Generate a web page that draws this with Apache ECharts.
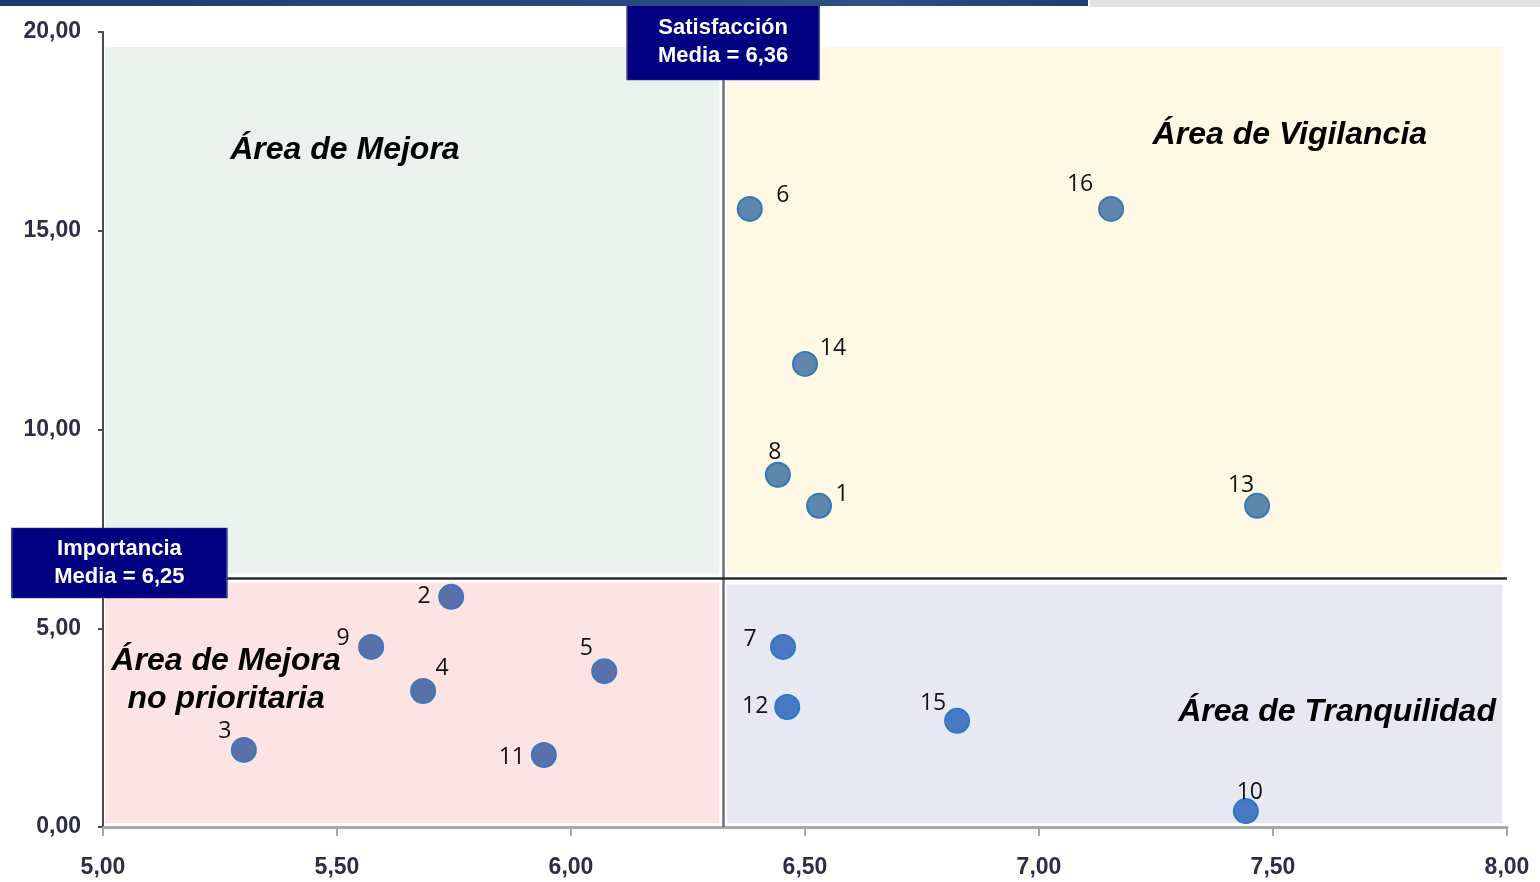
<!DOCTYPE html>
<html><head><meta charset="utf-8">
<script src="https://cdn.jsdelivr.net/npm/echarts@6/dist/echarts.min.js"></script>
<style>html,body{margin:0;padding:0;background:#fff}#c{width:1540px;height:882px}</style>
</head><body><div id="c"></div>
<script>
// ---- data ----
const pointIds = ['1','2','3','4','5','6','7','8','9','10','11','12','13','14','15','16'];
const satisfaccion = [6.53,5.744,5.301,5.684,6.071,6.382,6.453,6.442,5.573,7.442,5.942,6.462,7.466,6.50,6.825,7.154];
const importancia  = [8.08,5.79,1.94,3.42,3.92,15.55,4.53,8.86,4.53,0.40,1.81,3.02,8.08,11.65,2.67,15.55];
const satisfaccionMedia = 6.325;   // position of the vertical line as read
const importanciaMedia = 6.25;
const xTicks = [5,5.5,6,6.5,7,7.5,8];
const yTicks = [0,5,10,15,20];
const areaNames = ['Área de Mejora','Área de Vigilancia','Área de Mejora\nno prioritaria','Área de Tranquilidad'];
const areaX = [5.517,7.536,5.263,7.637];
const areaY = [17.03,17.41,3.70,2.89];
const satLabel = 'Satisfacción\nMedia = 6,36';
const impLabel = 'Importancia\nMedia = 6,25';

// ---- styles ----
const labelOffsets = {
 '1':[23,-11],'2':[-27,0],'3':[-19,-18],'4':[19,-23],'5':[-18,-23],'6':[33,-13],'7':[-33,-7],'8':[-3,-22],
 '9':[-28,-8],'10':[4,-19],'11':[-32,2],'12':[-32,-1],'13':[-16,-20],'14':[28,-15],'15':[-24,-17],'16':[-31,-24]
};
function pointColor(x,y){
  if (y>importanciaMedia) return {fill:'#5f86ad',border:'#2f7bb6'};
  if (x>satisfaccionMedia) return {fill:'#4a79c4',border:'#2a78c8'};
  return {fill:'#5a70a8',border:'#3a78c0'};
}
const fmt = v => v.toFixed(2).replace('.',',');

const points = pointIds.map((id,i)=>{
  const c = pointColor(satisfaccion[i], importancia[i]);
  return {
    value:[satisfaccion[i], importancia[i]], name:id,
    itemStyle:{color:c.fill,borderColor:c.border,borderWidth:2,opacity:1},
    label:{show:true,position:'inside',offset:labelOffsets[id],formatter:id,
      color:'#111111',fontSize:23,fontFamily:'Open Sans, Liberation Sans, sans-serif'}
  };
});

const gx = 0.008, gyTop = 0.12, gyBot = 0.1;
const axisFont = {fontSize:23,fontWeight:'bold',color:'#2d2d45',fontFamily:'Liberation Sans, Arial, sans-serif'};
const chart = echarts.init(document.getElementById('c'));
chart.setOption({
  animation:false,
  backgroundColor:'#ffffff',
  grid:{left:103,right:33,top:32,bottom:55},
  xAxis:{type:'value',min:xTicks[0],max:xTicks[xTicks.length-1],interval:0.5,
    splitLine:{show:false},
    axisLine:{show:true,onZero:false,lineStyle:{color:'#a8a8a8',width:3}},
    axisTick:{show:true,length:9,lineStyle:{color:'#a8a8a8',width:2}},
    axisLabel:Object.assign({formatter:fmt,margin:29},axisFont)},
  yAxis:{type:'value',min:yTicks[0],max:yTicks[yTicks.length-1],interval:5,
    splitLine:{show:false},
    axisLine:{show:true,onZero:false,lineStyle:{color:'#4a4a4a',width:2}},
    axisTick:{show:true,length:5,lineStyle:{color:'#4a4a4a',width:2}},
    axisLabel:Object.assign({formatter:fmt,margin:22},axisFont)},
  graphic:[
    {type:'rect',left:0,top:0,shape:{width:1088,height:6},style:{fill:new echarts.graphic.LinearGradient(0,0,1,0,[{offset:0,color:'#1d3a6e'},{offset:0.8,color:'#2c4f86'},{offset:1,color:'#1f3c72'}])},z:100},
    {type:'rect',left:1090,top:0,shape:{width:450,height:7},style:{fill:'#e2e2e2'},z:100}
  ],
  series:[
    {type:'scatter',data:[],silent:true,z:1,
      markArea:{silent:true,itemStyle:{opacity:1},data:[
        [{coord:[xTicks[0]+0.005,importanciaMedia+gyTop],itemStyle:{color:'#e9f2ed'}},{coord:[satisfaccionMedia-gx,19.62]}],
        [{coord:[satisfaccionMedia+gx,importanciaMedia+gyTop],itemStyle:{color:'#fef8e5'}},{coord:[7.99,19.62]}],
        [{coord:[xTicks[0]+0.005,0.1],itemStyle:{color:'#fce4e4'}},{coord:[satisfaccionMedia-gx,importanciaMedia-gyBot]}],
        [{coord:[satisfaccionMedia+gx,0.1],itemStyle:{color:'#e8e8f2'}},{coord:[7.99,importanciaMedia-gyBot-0.05]}]
      ]}},
    {type:'scatter',data:[],silent:true,z:2,
      markLine:{silent:true,symbol:'none',label:{show:false},data:[
        [{coord:[satisfaccionMedia,0],lineStyle:{color:'#6e6e6e',width:2.5,type:'solid'}},{coord:[satisfaccionMedia,19.5]}],
        [{coord:[xTicks[0],importanciaMedia],lineStyle:{color:'#2a2a2a',width:2.5,type:'solid'}},{coord:[xTicks[xTicks.length-1],importanciaMedia]}]
      ]}},
    {type:'scatter',symbol:'circle',symbolSize:24,z:5,data:points},
    {type:'scatter',symbolSize:0,z:6,silent:true,clip:false,
      data:areaNames.map((n,i)=>({value:[areaX[i],areaY[i]],name:n})),
      itemStyle:{opacity:1},
      label:{show:true,position:'inside',formatter:p=>p.name,color:'#000000',opacity:1,fontSize:32,fontWeight:'bold',fontStyle:'italic',
        fontFamily:'Liberation Sans, Arial, sans-serif',lineHeight:38,align:'center'}},
    {type:'scatter',z:10,silent:true,clip:false,symbol:'rect',
      data:[
        {value:[satisfaccionMedia,19.76],name:satLabel,symbolSize:[192,77]},
        {value:[5.035,6.64],name:impLabel,symbolSize:[215,70]}
      ],
      itemStyle:{color:'#000080',borderColor:'#3b3b8f',borderWidth:1,opacity:1},
      label:{show:true,position:'inside',formatter:p=>p.name,color:'#ffffff',fontSize:22,fontWeight:'bold',
        fontFamily:'Liberation Sans, Arial, sans-serif',lineHeight:28,align:'center'}}
  ]
});
</script></body></html>
